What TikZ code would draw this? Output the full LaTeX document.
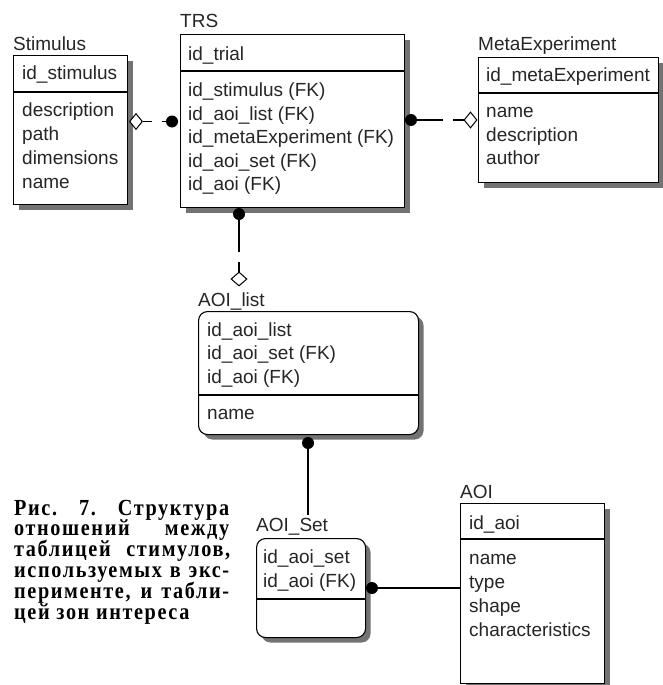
\documentclass[tikz,border=0pt]{standalone}
\usepackage{fontspec}
\setmainfont{Liberation Sans}
\newfontfamily\capfont[LetterSpace=7,FakeStretch=0.88]{Liberation Serif}
\usetikzlibrary{shapes.geometric,shadows}
\definecolor{shade}{gray}{0.45}
\tikzset{
  ent/.style={draw=black, line width=1.1pt, fill=white, inner sep=0pt, anchor=north west,
    drop shadow={shadow xshift=5pt, shadow yshift=-5pt, fill=shade, opacity=1}},
  rent/.style={ent, rounded corners=9pt},
  attr/.style={anchor=base west, inner sep=0pt, font=\fontsize{19}{23}\selectfont, text=black!85},
  hline/.style={line width=1.1pt},
  fkdot/.style={circle, fill=black, inner sep=0pt, minimum size=12pt},
  hdia/.style={diamond, draw=black, fill=white, line width=1pt, inner sep=0pt, minimum width=13pt, minimum height=16pt},
  vdia/.style={diamond, draw=black, fill=white, line width=1pt, inner sep=0pt, minimum width=16pt, minimum height=14pt},
  rel/.style={line width=1.1pt},
  capline/.style={anchor=base west, inner sep=0pt, font=\capfont\bfseries\fontsize{23}{21}\selectfont}
}
\begin{document}
\begin{tikzpicture}[x=1pt,y=-1pt]
\useasboundingbox[fill=white] (0,0) rectangle (663,685);

% ---- Stimulus
\node[attr] (tstim) at (13,50.7) {Stimulus};
\node[ent, minimum width=114pt, minimum height=149pt] (stim) at (13,55) {};
\draw[hline] (stim.west |- 0,92) -- (stim.east |- 0,92);
\node[attr] (s0) at (22,80) {id\_stimulus};
\foreach \t [count=\i] in {description, path, dimensions, name}
  \node[attr] (s\i) at (22,{116+24*(\i-1)}) {\t};

% ---- TRS
\node[attr] (ttrs) at (180,28) {TRS};
\node[ent, minimum width=224pt, minimum height=173pt] (trs) at (180,34) {};
\draw[hline] (trs.west |- 0,71) -- (trs.east |- 0,71);
\node[attr] (r0) at (188,60) {id\_trial};
\foreach \t [count=\i] in {id\_stimulus (FK), id\_aoi\_list (FK), id\_metaExperiment (FK), id\_aoi\_set (FK), id\_aoi (FK)}
  \node[attr] (r\i) at (188,{96.7+23.5*(\i-1)}) {\t};

% ---- MetaExperiment
\node[attr] (tmeta) at (478,50.7) {MetaExperiment};
\node[ent, minimum width=180pt, minimum height=125pt] (meta) at (478,57) {};
\draw[hline] (meta.west |- 0,93) -- (meta.east |- 0,93);
\node[attr] (m0) at (486,81.7) {id\_metaExperiment};
\foreach \t [count=\i] in {name, description, author}
  \node[attr] (m\i) at (486,{117.3+23.7*(\i-1)}) {\t};

% ---- AOI_list
\node[attr] (tlist) at (198,306) {AOI\_list};
\node[rent, minimum width=220pt, minimum height=123pt] (alist) at (198,311) {};
\draw[hline] (alist.west |- 0,395) -- (alist.east |- 0,395);
\foreach \t [count=\i] in {id\_aoi\_list, id\_aoi\_set (FK), id\_aoi (FK)}
  \node[attr] (l\i) at (207,{336+23.7*(\i-1)}) {\t};
\node[attr] (l4) at (207,419) {name};

% ---- AOI_Set
\node[attr] (tset) at (256,531.7) {AOI\_Set};
\node[rent, minimum width=109pt, minimum height=99pt] (aset) at (256,538) {};
\draw[hline] (aset.west |- 0,599) -- (aset.east |- 0,599);
\node[attr] (e1) at (263,563.3) {id\_aoi\_set};
\node[attr] (e2) at (263,587.3) {id\_aoi (FK)};

% ---- AOI
\node[attr] (taoi) at (460,498.3) {AOI};
\node[ent, minimum width=144pt, minimum height=180pt] (aoi) at (460,503) {};
\draw[hline] (aoi.west |- 0,539) -- (aoi.east |- 0,539);
\node[attr] (a0) at (469,529.3) {id\_aoi};
\foreach \t [count=\i] in {name, type, shape, characteristics}
  \node[attr] (a\i) at (469,{564+24*(\i-1)}) {\t};

% ---- connectors
% Stimulus -- TRS
\node[hdia] (dm1) at (136,121.5) {};
\node[fkdot] (dd1) at (172,121.5) {};
\draw[rel, dash pattern=on 9pt off 10pt on 30pt] (dm1.east) -- (dd1.west);
% TRS -- MetaExperiment
\node[fkdot] (dd2) at (411,120) {};
\node[hdia] (dm2) at (470.5,120) {};
\draw[rel, dash pattern=on 26pt off 10pt on 30pt] (dd2.east) -- (dm2.west);
% TRS -- AOI_list
\node[fkdot] (dd3) at (239,214) {};
\node[vdia] (dm3) at (239,279) {};
\draw[rel, dash pattern=on 32pt off 10pt on 30pt] (dd3.south) -- (dm3.north);
% AOI_list -- AOI_Set
\node[fkdot] (dd4) at (308,443) {};
\coordinate (c4) at (308,515);
\draw[rel] (dd4.south) -- (c4);
% AOI_Set -- AOI
\node[fkdot] (dd5) at (372,588) {};
\draw[rel] (dd5.east) -- (dd5 -| aoi.west);

% ---- caption
\node[capline] (k1) at (14,515) {\makebox[215pt][s]{Рис. 7. Структура}};
\node[capline] (k2) at (14,535.8) {\makebox[215pt][s]{отношений между}};
\node[capline] (k3) at (14,556.6) {\makebox[216pt][s]{таблицей стимулов,}};
\node[capline] (k4) at (14,577.4) {\makebox[215pt][s]{используемых в экс-}};
\node[capline] (k5) at (14,598.2) {\makebox[215pt][s]{перименте, и табли-}};
\node[capline] (k6) at (14,619) {цей зон интереса};
\end{tikzpicture}
\end{document}
